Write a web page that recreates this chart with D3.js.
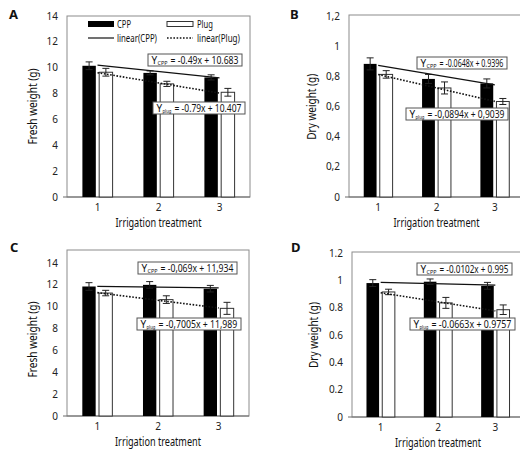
<!DOCTYPE html>
<html>
<head>
<meta charset="utf-8">
<script src="https://cdn.jsdelivr.net/npm/d3@7"></script>
<style>
  body { margin: 0; background: #fff; }
  svg { display: block; font-family: "Noto Sans", "DejaVu Sans", sans-serif; }
</style>
</head>
<body>
<script>
// categories (irrigation treatment)
const cats = ["1", "2", "3"];

// A: fresh weight (g)
const aCPP = [10.15, 9.6, 9.25];
const aCPPErr = [0.3, 0.15, 0.2];
const aPlug = [9.65, 8.75, 8.1];
const aPlugErr = [0.3, 0.2, 0.3];
const aCPPFit = [-0.49, 10.683];
const aPlugFit = [-0.79, 10.407];

// B: dry weight (g)
const bCPP = [0.885, 0.785, 0.755];
const bCPPErr = [0.04, 0.03, 0.03];
const bPlug = [0.815, 0.725, 0.635];
const bPlugErr = [0.025, 0.04, 0.02];
const bCPPFit = [-0.0648, 0.9396];
const bPlugFit = [-0.0894, 0.9039];

// C: fresh weight (g)
const cCPP = [11.85, 12.0, 11.65];
const cCPPErr = [0.35, 0.3, 0.3];
const cPlug = [11.25, 10.65, 9.85];
const cPlugErr = [0.25, 0.35, 0.55];
const cCPPFit = [-0.069, 11.934];
const cPlugFit = [-0.7005, 11.989];

// D: dry weight (g)
const dCPP = [0.98, 0.99, 0.96];
const dCPPErr = [0.025, 0.02, 0.025];
const dPlug = [0.915, 0.835, 0.785];
const dPlugErr = [0.02, 0.04, 0.035];
const dCPPFit = [-0.0102, 0.995];
const dPlugFit = [-0.0663, 0.9757];

// tick labels
const freshTicks = [0, 2, 4, 6, 8, 10, 12, 14];
const dryTicks = [0, 0.2, 0.4, 0.6, 0.8, 1, 1.2];
const dryLabelsComma = ["0", "0,2", "0,4", "0,6", "0,8", "1", "1,2"];
const dryLabelsDot = ["0", "0.2", "0.4", "0.6", "0.8", "1", "1.2"];

const w = 520;
const h = 454;

const svg = d3.select("body")
    .append("svg")
    .attr("width", w)
    .attr("height", h);

// squeeze a horizontal text to a given width (the original font is narrow)
const squeeze = function(sel, len) {
    const node = sel.node();
    const natural = node.getComputedTextLength();
    const k = Math.min(1, len / natural);
    const x0 = +sel.attr("x");
    const y0 = +sel.attr("y");
    sel.attr("x", 0).attr("y", 0)
        .attr("transform", "translate(" + x0 + "," + y0 + ")scale(" + k + ",1)");
    return sel;
};

const drawPanel = function(p) {
    const x = d3.scaleBand()
        .domain(cats)
        .range([p.left, p.right]);

    const y = d3.scaleLinear()
        .domain([0, p.max])
        .range([p.bottom, p.top]);

    const g = svg.append("g");

    // plot area frame
    g.append("rect")
        .attr("x", p.left)
        .attr("y", p.frameTop)
        .attr("width", p.right - p.left)
        .attr("height", p.bottom - p.frameTop)
        .attr("fill", "none")
        .attr("stroke", "#8c8c8c")
        .attr("stroke-width", 1);

    // x axis line
    g.append("line")
        .attr("x1", p.left - 4).attr("x2", p.right)
        .attr("y1", p.bottom).attr("y2", p.bottom)
        .attr("stroke", "#6a6a6a");

    // y tick labels
    g.selectAll(".ytick")
        .data(p.ticks)
        .enter()
        .append("text")
        .attr("x", p.left - 9)
        .attr("y", function(d) { return y(d) + 3.5; })
        .attr("text-anchor", "end")
        .attr("font-size", 10)
        .attr("fill", "#222")
        .text(function(d, i) { return p.tickLabels ? p.tickLabels[i] : d; });

    // x tick labels
    g.selectAll(".xtick")
        .data(cats)
        .enter()
        .append("text")
        .attr("x", function(d) { return x(d) + x.bandwidth() / 2; })
        .attr("y", p.bottom + 14)
        .attr("text-anchor", "middle")
        .attr("font-size", 10)
        .attr("fill", "#222")
        .text(function(d) { return d; });

    const bw = x.bandwidth() * 0.22;
    const gap = x.bandwidth() * 0.055;
    const mid = function(c) { return x(c) + x.bandwidth() / 2; };
    const cppX = function(c) { return mid(c) - gap / 2 - bw; };
    const plugX = function(c) { return mid(c) + gap / 2; };

    // CPP bars
    g.selectAll(".cpp")
        .data(p.cpp)
        .enter()
        .append("rect")
        .attr("x", function(d, i) { return cppX(cats[i]); })
        .attr("y", function(d) { return y(d); })
        .attr("width", bw)
        .attr("height", function(d) { return p.bottom - y(d); })
        .attr("fill", "#000");

    // Plug bars
    g.selectAll(".plug")
        .data(p.plug)
        .enter()
        .append("rect")
        .attr("x", function(d, i) { return plugX(cats[i]); })
        .attr("y", function(d) { return y(d); })
        .attr("width", bw)
        .attr("height", function(d) { return p.bottom - y(d); })
        .attr("fill", "#fff")
        .attr("stroke", "#333")
        .attr("stroke-width", 1);

    // error bars
    const errBars = function(vals, errs, xf) {
        vals.forEach(function(v, i) {
            const cx = xf(cats[i]) + bw / 2;
            const y1 = y(v + errs[i]);
            const y2 = y(v - errs[i]);
            g.append("line")
                .attr("x1", cx).attr("x2", cx)
                .attr("y1", y1).attr("y2", y2)
                .attr("stroke", "#222");
            [y1, y2].forEach(function(yy) {
                g.append("line")
                    .attr("x1", cx - 3.5).attr("x2", cx + 3.5)
                    .attr("y1", yy).attr("y2", yy)
                    .attr("stroke", "#222");
            });
        });
    };
    errBars(p.cpp, p.cppErr, cppX);
    errBars(p.plug, p.plugErr, plugX);

    // linear trendlines, x = 1..3
    const trend = function(fit, dash) {
        const x1 = mid(cats[0]);
        const x2 = mid(cats[2]);
        g.append("line")
            .attr("x1", x1).attr("x2", x2)
            .attr("y1", y(fit[0] * 1 + fit[1]))
            .attr("y2", y(fit[0] * 3 + fit[1]))
            .attr("stroke", "#111")
            .attr("stroke-width", dash ? 1.6 : 1.2)
            .attr("stroke-dasharray", dash ? "1.6,1.6" : null);
    };
    trend(p.cppFit, false);
    trend(p.plugFit, true);

    // equation boxes: "Y", subscript, then the equation squeezed to fit
    p.eqs.forEach(function(e) {
        g.append("rect")
            .attr("x", e.x).attr("y", e.y)
            .attr("width", e.w).attr("height", 12)
            .attr("fill", "#fff")
            .attr("stroke", "#555")
            .attr("stroke-width", 1);
        const base = e.y + 9.5;
        g.append("text")
            .attr("x", e.x + 3.5)
            .attr("y", base)
            .attr("font-size", 10)
            .attr("fill", "#111")
            .text("Y");
        const subW = e.sub === "CPP" ? 10 : 9;
        squeeze(g.append("text")
            .attr("x", e.x + 9.5)
            .attr("y", base + 1.5)
            .attr("font-size", 5.5)
            .attr("fill", "#111")
            .text(e.sub), subW);
        const start = e.x + 9.5 + subW + 3;
        squeeze(g.append("text")
            .attr("x", start)
            .attr("y", base)
            .attr("font-size", 10)
            .attr("fill", "#111")
            .text(e.text), e.x + e.w - 3.5 - start);
    });

    // axis titles
    const xt = g.append("text")
        .attr("x", (p.left + p.right) / 2)
        .attr("y", p.bottom + 30)
        .attr("text-anchor", "middle")
        .attr("font-size", 12.5)
        .attr("fill", "#111")
        .text("Irrigation treatment");
    squeeze(xt, 86);

    g.append("text")
        .attr("text-anchor", "middle")
        .attr("transform", "translate(" + p.titleX + "," + ((p.bottom + p.top) / 2) + ")rotate(-90)")
        .attr("font-size", 12.5)
        .attr("textLength", p.titleLen)
        .attr("lengthAdjust", "spacingAndGlyphs")
        .attr("fill", "#111")
        .text(p.title);

    // panel letter
    svg.append("text")
        .attr("x", p.letterX)
        .attr("y", p.letterY)
        .attr("font-size", 13)
        .attr("font-weight", "bold")
        .attr("fill", "#111")
        .text(p.letter);
};

drawPanel({
    letter: "A", letterX: 9, letterY: 19,
    left: 67, right: 250, top: 16, bottom: 197, frameTop: 16, max: 14,
    ticks: freshTicks,
    cpp: aCPP, cppErr: aCPPErr, plug: aPlug, plugErr: aPlugErr,
    cppFit: aCPPFit, plugFit: aPlugFit,
    title: "Fresh weight (g)", titleX: 37, titleLen: 76,
    eqs: [
        {x: 148, y: 54, w: 94, sub: "CPP", text: "= -0.49x + 10.683"},
        {x: 153, y: 102, w: 92, sub: "plug", text: "= -0.79x + 10.407"}
    ]
});

drawPanel({
    letter: "B", letterX: 290, letterY: 19,
    left: 349, right: 524, top: 16.5, bottom: 197, frameTop: 15, max: 1.2,
    ticks: dryTicks, tickLabels: dryLabelsComma,
    cpp: bCPP, cppErr: bCPPErr, plug: bPlug, plugErr: bPlugErr,
    cppFit: bCPPFit, plugFit: bPlugFit,
    title: "Dry weight (g)", titleX: 316, titleLen: 66,
    eqs: [
        {x: 417, y: 57, w: 90, sub: "CPP", text: "= -0.0648x + 0.9396"},
        {x: 406, y: 108, w: 102, sub: "plug", text: "= -0,0894x + 0,9039"}
    ]
});

drawPanel({
    letter: "C", letterX: 10, letterY: 252,
    left: 67, right: 249, top: 263, bottom: 416, frameTop: 250, max: 14,
    ticks: freshTicks,
    cpp: cCPP, cppErr: cCPPErr, plug: cPlug, plugErr: cPlugErr,
    cppFit: cCPPFit, plugFit: cPlugFit,
    title: "Fresh weight (g)", titleX: 37, titleLen: 76,
    eqs: [
        {x: 138, y: 262, w: 99, sub: "CPP", text: "= -0,069x + 11,934"},
        {x: 137, y: 318, w: 104, sub: "plug", text: "= -0,7005x + 11,989"}
    ]
});

drawPanel({
    letter: "D", letterX: 291, letterY: 252,
    left: 352, right: 524, top: 253, bottom: 417, frameTop: 252, max: 1.2,
    ticks: dryTicks, tickLabels: dryLabelsDot,
    cpp: dCPP, cppErr: dCPPErr, plug: dPlug, plugErr: dPlugErr,
    cppFit: dCPPFit, plugFit: dPlugFit,
    title: "Dry weight (g)", titleX: 318, titleLen: 66,
    eqs: [
        {x: 417, y: 263, w: 95, sub: "CPP", text: "= -0.0102x + 0.995"},
        {x: 410, y: 318, w: 105, sub: "plug", text: "= -0.0663x + 0.9757"}
    ]
});

// legend (panel A only)
const legend = svg.append("g").attr("font-size", 10).attr("fill", "#111");
legend.append("rect").attr("x", 88).attr("y", 21).attr("width", 26).attr("height", 6).attr("fill", "#000");
squeeze(legend.append("text").attr("x", 117).attr("y", 27.5).text("CPP"), 14);
legend.append("rect").attr("x", 167).attr("y", 21.5).attr("width", 26).attr("height", 5)
    .attr("fill", "#fff").attr("stroke", "#333");
squeeze(legend.append("text").attr("x", 197).attr("y", 27.5).text("Plug"), 16);
legend.append("line").attr("x1", 88).attr("x2", 114).attr("y1", 38).attr("y2", 38)
    .attr("stroke", "#111").attr("stroke-width", 1.2);
squeeze(legend.append("text").attr("x", 117).attr("y", 41.5).text("linear(CPP)"), 40);
legend.append("line").attr("x1", 167).attr("x2", 193).attr("y1", 38).attr("y2", 38)
    .attr("stroke", "#111").attr("stroke-width", 1.6).attr("stroke-dasharray", "1.6,1.6");
squeeze(legend.append("text").attr("x", 197).attr("y", 41.5).text("linear(Plug)"), 43);
</script>
</body>
</html>
